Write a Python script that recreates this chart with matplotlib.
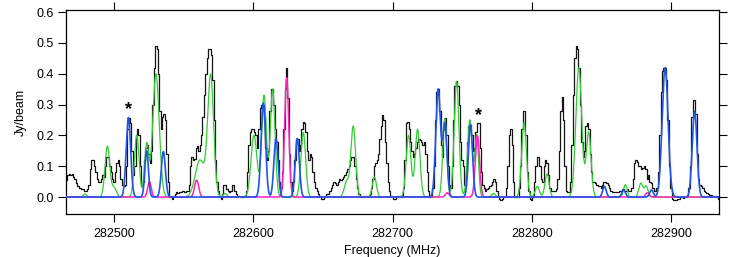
import numpy as np
import matplotlib
matplotlib.use('Agg')
import matplotlib.pyplot as plt

# observed spectrum, 1 MHz channels starting at 282466 MHz
chan_start = 282466.0
chan_width = 1.0
flux = [
    0.055, 0.07, 0.075, 0.07,                                          # 466
    0.075, 0.065, 0.06, 0.045, 0.035, 0.03, 0.03, 0.025, 0.025, 0.02,  # 470
    0.02, 0.025, 0.04, 0.09, 0.12, 0.12, 0.10, 0.08, 0.06, 0.05,       # 480
    0.05, 0.06, 0.07, 0.065, 0.10, 0.13, 0.13, 0.10, 0.08, 0.06,       # 490
    0.05, 0.08, 0.11, 0.12, 0.10, 0.06, 0.04, 0.035, 0.04, 0.10,       # 500
    0.22, 0.255, 0.24, 0.15, 0.07, 0.10, 0.20, 0.22, 0.20, 0.10,       # 510
    0.04, 0.05, 0.12, 0.16, 0.17, 0.14, 0.11, 0.15, 0.30, 0.42,        # 520
    0.49, 0.48, 0.40, 0.28, 0.22, 0.26, 0.27, 0.25, 0.14, 0.05,        # 530
    0.005, 0.0, -0.005, 0.005, 0.01, 0.015, 0.012, 0.018, 0.015, 0.02, # 540
    0.02, 0.015, 0.02, 0.02, 0.04, 0.10, 0.13, 0.12, 0.125, 0.16,      # 550
    0.165, 0.15, 0.17, 0.20, 0.26, 0.33, 0.40, 0.45, 0.48, 0.48,       # 560
    0.46, 0.38, 0.25, 0.12, 0.05, 0.02, 0.005, -0.005, 0.01, 0.04,     # 570
    0.04, 0.025, 0.02, 0.015, 0.02, 0.04, 0.04, 0.02, 0.01, 0.005,     # 580
    0.005, 0.0, 0.0, 0.0, 0.005, 0.02, 0.08, 0.17, 0.21, 0.22,         # 590
    0.22, 0.21, 0.20, 0.16, 0.22, 0.29, 0.30, 0.30, 0.26, 0.16,        # 600
    0.12, 0.15, 0.28, 0.35, 0.35, 0.30, 0.22, 0.18, 0.12, 0.05,        # 610
    0.03, 0.08, 0.22, 0.35, 0.42, 0.32, 0.14, 0.05, 0.02, 0.05,        # 620
    0.12, 0.19, 0.19, 0.15, 0.17, 0.22, 0.245, 0.24, 0.21, 0.15,       # 630
    0.12, 0.14, 0.13, 0.08, 0.05, 0.03, 0.02, 0.01, 0.005, -0.005,     # 640
    -0.005, 0.0, 0.005, 0.01, 0.01, 0.02, 0.03, 0.04, 0.05, 0.045,     # 650
    0.04, 0.05, 0.06, 0.055, 0.06, 0.065, 0.07, 0.08, 0.09, 0.10,      # 660
    0.12, 0.13, 0.13, 0.10, 0.06, 0.03, 0.01, 0.005, 0.0, 0.0,         # 670
    0.005, 0.005, 0.005, 0.005, 0.01, 0.03, 0.06, 0.10, 0.11, 0.12,    # 680
    0.14, 0.19, 0.23, 0.265, 0.25, 0.18, 0.11, 0.05, 0.02, 0.005,      # 690
    0.0, -0.005, -0.005, 0.0, 0.005, 0.005, 0.005, 0.0, 0.03, 0.12,    # 700
    0.24, 0.245, 0.22, 0.18, 0.15, 0.13, 0.14, 0.16, 0.18, 0.19,       # 710
    0.185, 0.18, 0.17, 0.18, 0.14, 0.08, 0.02, 0.0, 0.0, 0.03,         # 720
    0.10, 0.25, 0.34, 0.35, 0.28, 0.17, 0.13, 0.22, 0.255, 0.20,       # 730
    0.10, 0.04, 0.03, 0.10, 0.25, 0.36, 0.375, 0.36, 0.30, 0.18,       # 740
    0.12, 0.10, 0.04, 0.08, 0.18, 0.23, 0.235, 0.20, 0.15, 0.16,       # 750
    0.21, 0.24, 0.24, 0.16, 0.08, 0.04, 0.03, 0.02, 0.025, 0.03,       # 760
    0.035, 0.04, 0.05, 0.06, 0.05, 0.02, 0.005, -0.005, -0.01, -0.005, # 770
    0.0, 0.005, 0.03, 0.10, 0.20, 0.22, 0.17, 0.05, 0.0, 0.0,          # 780
    0.0, 0.03, 0.10, 0.22, 0.28, 0.28, 0.20, 0.08, 0.02, -0.005,       # 790
    -0.01, 0.0, 0.05, 0.10, 0.13, 0.13, 0.10, 0.06, 0.05, 0.10,        # 800
    0.12, 0.11, 0.07, 0.03, 0.02, 0.02, 0.02, 0.02, 0.025, 0.06,       # 810
    0.15, 0.28, 0.325, 0.25, 0.10, 0.02, 0.015, 0.015, 0.05, 0.17,     # 820
    0.33, 0.45, 0.49, 0.48, 0.42, 0.30, 0.18, 0.13, 0.15, 0.23,        # 830
    0.24, 0.22, 0.14, 0.08, 0.05, 0.05, 0.045, 0.04, 0.035, 0.035,     # 840
    0.03, 0.04, 0.05, 0.05, 0.045, 0.04, 0.03, 0.02, 0.018, 0.017,     # 850
    0.017, 0.015, 0.015, 0.02, 0.02, 0.025, 0.025, 0.02, 0.02, 0.025,  # 860
    0.02, 0.02, 0.03, 0.06, 0.11, 0.12, 0.115, 0.10, 0.10, 0.09,       # 870
    0.095, 0.10, 0.09, 0.06, 0.07, 0.05, 0.045, 0.03, 0.02, 0.02,      # 880
    0.03, 0.08, 0.20, 0.34, 0.41, 0.42, 0.42, 0.38, 0.25, 0.10,        # 890
    0.03, -0.005, -0.01, -0.01, -0.008, -0.005, -0.005, 0.0, 0.0, -0.003,  # 900
    0.0, 0.0, 0.005, 0.03, 0.10, 0.26, 0.315, 0.315, 0.27, 0.14,       # 910
    0.06, 0.04, 0.035, 0.03, 0.02, 0.015, 0.012, 0.01, 0.008, 0.006,   # 920
    0.005, 0.004, 0.003, 0.0, -0.005,                                  # 930
]

# fitted line components: centre (MHz), peak (Jy/beam), FWHM (MHz)
green_center = [282479.0, 282495.2, 282500.0, 282516.3, 282523.4, 282530.1, 282561.7,
                282569.4, 282579.7, 282600.5, 282607.7, 282613.9, 282635.9, 282667.0,
                282671.8, 282687.0, 282711.5, 282718.0, 282737.6, 282746.0, 282755.6,
                282760.5, 282772.5, 282794.5, 282804.0, 282811.0, 282833.8, 282840.9,
                282867.2, 282878.4, 282882.3]
green_peak = [0.01, 0.165, 0.03, 0.20, 0.17, 0.40, 0.12,
              0.39, 0.012, 0.20, 0.33, 0.35, 0.21, 0.05,
              0.23, 0.065, 0.20, 0.22, 0.255, 0.375, 0.25,
              0.20, 0.012, 0.24, 0.035, 0.075, 0.42, 0.21,
              0.04, 0.045, 0.035]
green_fwhm = [3.0, 4.0, 4.0, 4.0, 3.5, 5.5, 8.0,
              5.0, 3.0, 5.0, 4.0, 4.0, 4.0, 4.0,
              4.0, 3.5, 4.0, 4.0, 3.5, 4.0, 4.0,
              3.0, 3.0, 4.0, 3.5, 3.5, 5.0, 4.0,
              3.0, 3.5, 3.0]

blue_center = [282510.3, 282523.4, 282535.4, 282607.2, 282616.3, 282631.6, 282732.8,
               282737.6, 282756.0, 282852.2, 282866.0, 282886.0, 282895.8, 282917.0]
blue_peak = [0.258, 0.15, 0.147, 0.305, 0.19, 0.19, 0.35,
             0.235, 0.235, 0.035, 0.023, 0.023, 0.42, 0.277]
blue_fwhm = [3.8, 3.0, 3.5, 3.8, 3.5, 3.5, 4.0,
             3.5, 3.5, 3.0, 3.0, 3.0, 5.0, 4.0]

pink_center = [282525.4, 282559.3, 282624.0, 282739.3, 282761.0, 282883.1]
pink_peak = [0.05, 0.055, 0.387, 0.014, 0.20, 0.014]
pink_fwhm = [3.0, 3.5, 3.5, 3.0, 3.5, 3.0]

star_freq = [282510.3, 282761.5]
star_flux = [0.283, 0.265]


def model(freq, centers, peaks, fwhms):
    out = np.zeros_like(freq)
    for c, p, w in zip(centers, peaks, fwhms):
        s = w / 2.3548
        out += p * np.exp(-0.5 * ((freq - c) / s) ** 2)
    return out


plt.rcParams['font.family'] = ['Liberation Sans', 'DejaVu Sans']
plt.rcParams['font.size'] = 9

fig = plt.figure(figsize=(7.47, 2.57), dpi=100)
ax = fig.add_axes([0.0884, 0.1673, 0.9625 - 0.0884, 0.9611 - 0.1673])

chan = chan_start + chan_width * np.arange(len(flux))
ax.plot(chan, flux, drawstyle='steps-mid', color='#151515', lw=0.9, zorder=2)

xmin, xmax = 282465.5, 282934.5
fine = np.linspace(xmin, xmax, 4000)
ax.plot(fine, model(fine, green_center, green_peak, green_fwhm), color='#33cc33', lw=0.9, zorder=3)
ax.plot(fine, model(fine, pink_center, pink_peak, pink_fwhm), color='#ff22bb', lw=1.1, zorder=4)
ax.plot(fine, model(fine, blue_center, blue_peak, blue_fwhm), color='#1f55e6', lw=1.2, zorder=5)

for f, v in zip(star_freq, star_flux):
    ax.text(f, v, '*', ha='center', va='center', fontsize=13, fontweight='bold')

ax.set_xlim(xmin, xmax)
ax.set_ylim(-0.055, 0.607)
ax.set_xticks([282500, 282600, 282700, 282800, 282900])
ax.set_xticklabels(['282500', '282600', '282700', '282800', '282900'])
ax.set_yticks([0.0, 0.1, 0.2, 0.3, 0.4, 0.5, 0.6])
ax.set_yticklabels(['0.0', '0.1', '0.2', '0.3', '0.4', '0.5', '0.6'])
ax.tick_params(axis='x', direction='out', top=True, bottom=True, length=6,
               width=0.8, pad=4)
ax.tick_params(axis='y', direction='out', left=True, right=True, length=6,
               width=0.8, pad=3)
for sp in ax.spines.values():
    sp.set_linewidth(0.9)

ax.set_xlabel('Frequency (MHz)', labelpad=3.5)
ax.set_ylabel('Jy/beam', labelpad=7)

fig.savefig('out.png', dpi=100)
